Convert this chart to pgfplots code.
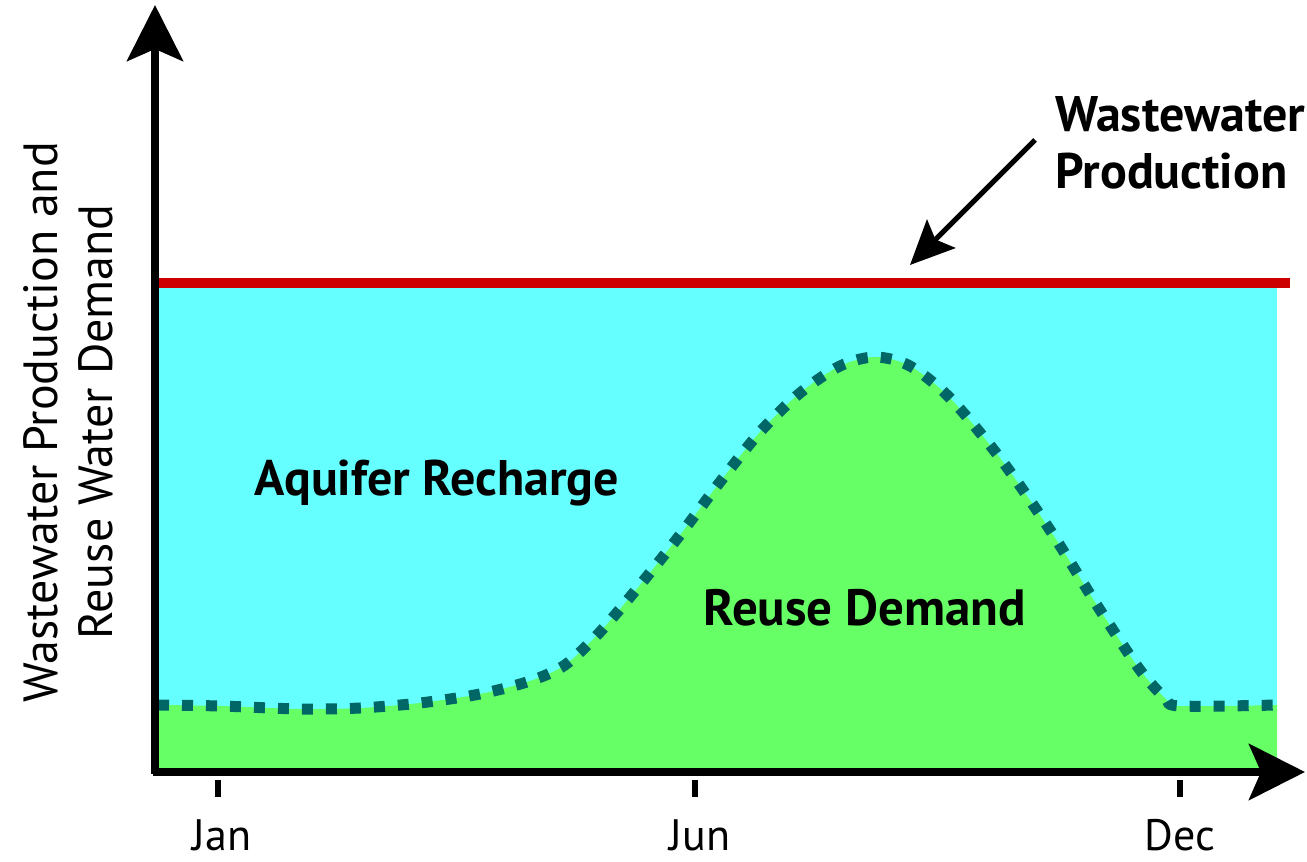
\documentclass[border=0pt]{standalone}
\usepackage{pgfplots}
\pgfplotsset{compat=1.18}
\usepackage{fontspec}
\setmainfont{PT Sans}
\usetikzlibrary{arrows.meta}
\definecolor{cyanf}{RGB}{102,255,255}
\definecolor{greenf}{RGB}{102,255,102}
\definecolor{redl}{RGB}{204,0,0}
\definecolor{teal2}{RGB}{0,102,102}
\pgfplotstableread{
u v
3 67
65 66
145 63
205 64
265 69
325 78
375 91
410 107
445 140
485 187
525 237
565 290
605 340
645 379
685 406
720 415
755 406
795 374
845 314
895 242
945 162
985 102
1010 74
1025 66
1122 67
}\demand
\begin{document}
\begin{tikzpicture}
\begin{axis}[
  width=575pt, height=383.5pt, scale only axis,
  xmin=0, xmax=1150, ymin=0, ymax=767,
  hide axis, clip=false,
]
\coordinate (bl) at (axis cs:-155,-90);
\coordinate (tr) at (axis cs:1152,772);
\addplot[draw=none, fill=cyanf] coordinates {(3,0) (3,486) (1122,486) (1122,0)} -- cycle;
\addplot[draw=none, fill=greenf, smooth, tension=0.5] table {\demand} |- (axis cs:3,0) -- cycle;
\addplot[teal2, line width=5.5pt, dash pattern=on 5.5pt off 6.5pt, smooth, tension=0.5] table {\demand};
\addplot[redl, line width=5pt] coordinates {(3,489) (1135,489)};
\draw[line width=4pt, -{Stealth[length=28pt, width=28pt, inset=6pt]}] (axis cs:0,-2) -- (axis cs:0,767);
\draw[line width=4pt, -{Stealth[length=28pt, width=28pt, inset=6pt]}] (axis cs:-2,0) -- (axis cs:1150,0);
\draw[line width=3pt] (axis cs:63,-8) -- (axis cs:63,-25);
\draw[line width=3pt] (axis cs:540,-8) -- (axis cs:540,-25);
\draw[line width=3pt] (axis cs:1025,-8) -- (axis cs:1025,-25);
\node[inner sep=0pt, font=\fontsize{22}{26}\selectfont] at (axis cs:67,-63) {Jan};
\node[inner sep=0pt, font=\fontsize{22}{26}\selectfont] at (axis cs:545,-63) {Jun};
\node[inner sep=0pt, font=\fontsize{22}{26}\selectfont] at (axis cs:1025,-63) {Dec};
\node[inner sep=0pt, rotate=90, align=center, font=\fontsize{24}{27.5}\selectfont] at (axis cs:-87,350) {Wastewater Production and\\Reuse Water Demand};
\node[font=\bfseries\fontsize{25}{28}\selectfont] at (axis cs:282,289) {Aquifer Recharge};
\node[font=\bfseries\fontsize{25.5}{28}\selectfont] at (axis cs:710,164) {Reuse Demand};
\node[inner sep=0pt, anchor=west, align=left, font=\bfseries\fontsize{25}{28.5}\selectfont] at (axis cs:900,629) {Wastewater\\Production};
\draw[line width=2.5pt, -{Stealth[length=22pt, width=20pt, inset=4pt]}] (axis cs:880,632) -- (axis cs:755,507);
\end{axis}
\pgfresetboundingbox
\path (bl) rectangle (tr);
\end{tikzpicture}
\end{document}
